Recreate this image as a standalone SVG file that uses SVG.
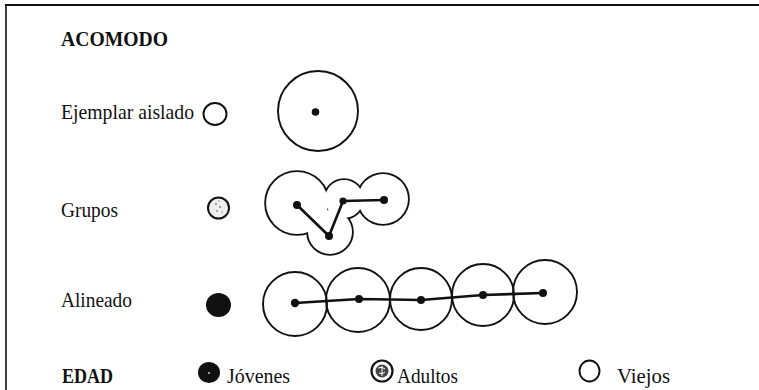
<svg xmlns="http://www.w3.org/2000/svg" width="759" height="390" viewBox="0 0 759 390">
<style>
  .t { font-family: "Liberation Serif", "Times New Roman", serif; font-size: 21px; fill: #111; }
  .b { font-weight: bold; font-size: 20px; }
  .ring { fill: none; stroke: #111; stroke-width: 1.9; }
  .dot { fill: #111; }
  .link { fill: none; stroke: #111; stroke-width: 2.6; stroke-linejoin: round; }
  .uo { fill: none; stroke: #111; stroke-width: 3.6; }
  .ui { fill: #fff; stroke: none; }
</style>
<rect width="759" height="390" fill="#fff"/>
<g id="frame">
  <line x1="5" y1="5" x2="759" y2="5" stroke="#111" stroke-width="2.2"/>
  <line x1="6" y1="4" x2="6" y2="390" stroke="#111" stroke-width="1.6"/>
</g>
<g id="title-acomodo"><text class="t b" x="61" y="46" textLength="107" lengthAdjust="spacingAndGlyphs">ACOMODO</text></g>

<g id="row-aislado">
  <text class="t" x="61" y="119" textLength="133" lengthAdjust="spacingAndGlyphs">Ejemplar aislado</text>
  <ellipse cx="215" cy="114" rx="11.5" ry="11" class="ring"/>
  <circle cx="318" cy="111" r="40" class="ring"/>
  <circle cx="315.5" cy="112" r="3.8" class="dot"/>
</g>

<g id="row-grupos">
  <text class="t" x="61" y="217" textLength="57" lengthAdjust="spacingAndGlyphs">Grupos</text>
  <circle cx="218.5" cy="208" r="10.5" fill="#eee" stroke="#111" stroke-width="2"/>
  <g fill="#888"><circle cx="216" cy="204" r="1"/><circle cx="220" cy="207" r="1.1"/><circle cx="217" cy="211" r="0.9"/><circle cx="222" cy="212" r="0.8"/><circle cx="219" cy="201" r="0.8"/></g>
  <g id="grupos-shape">
    <circle cx="297" cy="203" r="31" class="uo"/>
    <circle cx="330" cy="232" r="22" class="uo"/>
    <circle cx="344" cy="199" r="19" class="uo"/>
    <circle cx="383" cy="199" r="25" class="uo"/>
    <circle cx="297" cy="203" r="31" class="ui"/>
    <circle cx="330" cy="232" r="22" class="ui"/>
    <circle cx="344" cy="199" r="19" class="ui"/>
    <circle cx="383" cy="199" r="25" class="ui"/>
  </g>
</g>

<g id="row-alineado">
  <text class="t" x="61" y="307" textLength="71" lengthAdjust="spacingAndGlyphs">Alineado</text>
  <ellipse cx="218.5" cy="305" rx="12.5" ry="12" class="dot"/>
  <circle cx="295" cy="304" r="32" class="ring"/>
  <circle cx="358" cy="300" r="32" class="ring"/>
  <circle cx="421" cy="299" r="31" class="ring"/>
  <circle cx="483" cy="295" r="31" class="ring"/>
  <circle cx="545" cy="292" r="32" class="ring"/>
</g>

<g id="connectors">
  <polyline class="link" points="297,205 329,236 343,201 384,200"/>
  <polyline class="link" points="295,303 359,299 421,300 483,295 543,293"/>
</g>
<g id="dots">
  <circle cx="297" cy="205" r="4" class="dot"/>
  <circle cx="329" cy="236" r="4" class="dot"/>
  <circle cx="343" cy="201" r="3.6" class="dot"/>
  <circle cx="384" cy="200" r="4" class="dot"/>
  <circle cx="295" cy="303" r="4.2" class="dot"/>
  <circle cx="359" cy="299" r="4" class="dot"/>
  <circle cx="421" cy="300" r="4" class="dot"/>
  <circle cx="483" cy="295" r="4" class="dot"/>
  <circle cx="543" cy="293" r="4" class="dot"/>
</g>

<g id="legend-edad">
  <text class="t b" x="62" y="383" textLength="51" lengthAdjust="spacingAndGlyphs">EDAD</text>
  <ellipse cx="209" cy="372.5" rx="11" ry="10.5" class="dot"/>
  <circle cx="209" cy="373" r="0.9" fill="#ddd"/>
  <text class="t" x="227" y="383" textLength="63" lengthAdjust="spacingAndGlyphs">Jóvenes</text>
  <circle cx="382" cy="371" r="10.5" fill="#fff" stroke="#111" stroke-width="2.2"/>
  <circle cx="382" cy="371" r="6.5" fill="#444"/>
  <path d="M378,368 q4,-2 7,1 M379,373 q3,2 6,-1 M382,366 v10" stroke="#fff" stroke-width="1" fill="none"/>
  <text class="t" x="397" y="383" textLength="61" lengthAdjust="spacingAndGlyphs">Adultos</text>
  <ellipse cx="589.5" cy="371" rx="10" ry="10.5" class="ring"/>
  <text class="t" x="617" y="383" textLength="53" lengthAdjust="spacingAndGlyphs">Viejos</text>
</g>
</svg>
